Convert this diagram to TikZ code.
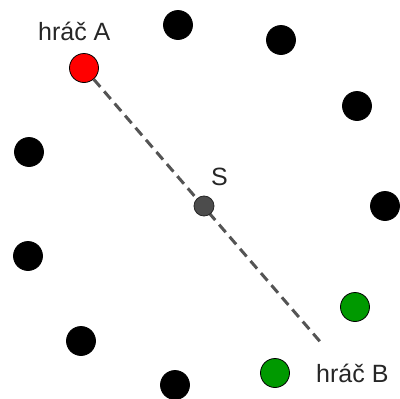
\documentclass[tikz,border=0pt]{standalone}
\usepackage{fontspec}
\setmainfont{Liberation Sans}

\begin{document}
\begin{tikzpicture}[x=1pt, y=-1pt,
  hrac/.style={circle, draw=black, line width=0.8pt, minimum size=29pt, inner sep=0pt},
  popis/.style={font=\fontsize{25}{29}\selectfont, text=black!85, inner sep=0pt}]
  \useasboundingbox (0,0) rectangle (400,399);
  % ostatní hráči na kružnici
  \foreach \x/\y [count=\i] in {178/25, 281/40, 357/106, 385/206, 29/152, 28/256, 81/341, 175/385}
    \node[hrac, fill=black] (h\i) at (\x,\y) {};
  \node[hrac, fill=red] (A) at (84,68) {};
  \node[hrac, fill=green!60!black] (B1) at (355,307) {};
  \node[hrac, fill=green!60!black] (B2) at (275,373) {};
  % spojnice přes střed
  \coordinate (konec) at (323,345);
  \draw[black!67, line width=3pt, dash pattern=on 10pt off 6pt] (A) -- (konec);
  \node[circle, draw=black!85, line width=0.8pt, fill=black!70, minimum size=20pt, inner sep=0pt] (S) at (204,206) {};
  \node[popis, anchor=base west] (popisA) at (38,40) {hráč A};
  \node[popis, anchor=base west] (popisB) at (316,382) {hráč B};
  \node[popis, anchor=base west] (popisS) at (211,185) {S};
\end{tikzpicture}
\end{document}
